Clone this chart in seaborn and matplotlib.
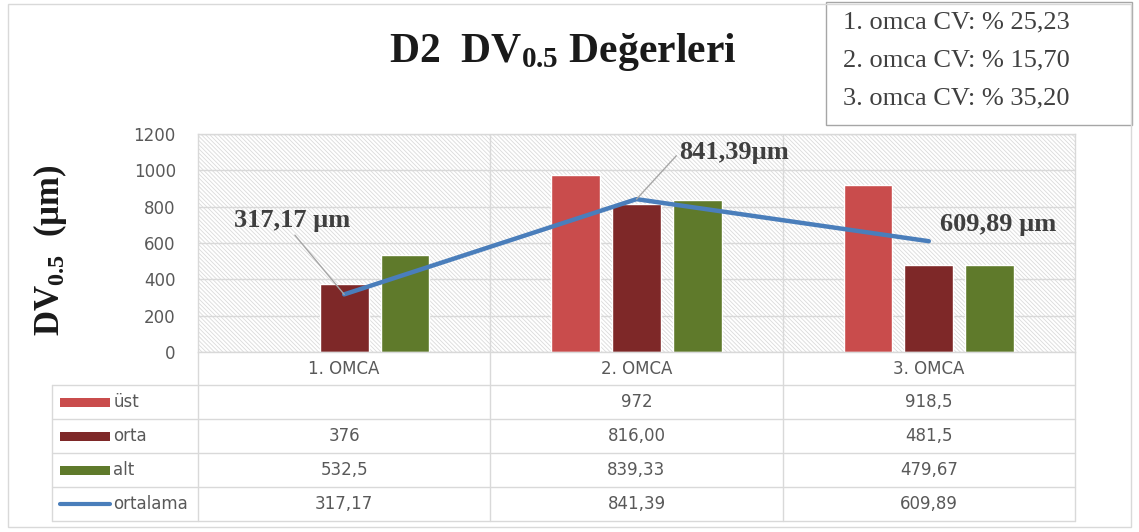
import matplotlib
matplotlib.use("Agg")
import matplotlib.pyplot as plt
from matplotlib.patches import Rectangle
from matplotlib.lines import Line2D
from matplotlib.transforms import Affine2D, blended_transform_factory
import numpy as np
import pandas as pd
import seaborn as sns

# veriler
categories = ["1. OMCA", "2. OMCA", "3. OMCA"]
ust = [np.nan, 972, 918.5]
orta = [376, 816.00, 481.5]
alt = [532.5, 839.33, 479.67]
ortalama = [317.17, 841.39, 609.89]
series_names = ["üst", "orta", "alt"]
table_text = {
    "üst": ["", "972", "918,5"],
    "orta": ["376", "816,00", "481,5"],
    "alt": ["532,5", "839,33", "479,67"],
    "ortalama": ["317,17", "841,39", "609,89"],
}
point_labels = ["317,17 µm", "841,39µm", "609,89 µm"]
cv_lines = ["1. omca CV: % 25,23", "2. omca CV: % 15,70", "3. omca CV: % 35,20"]
yticks = [0, 200, 400, 600, 800, 1000, 1200]

colors = {"üst": "#C94C4C", "orta": "#7E2828", "alt": "#5F7A2B"}
line_color = "#4A7EBB"
grid_c = "#D9D9D9"
txt_c = "#595959"

sns.set_theme(style="white")
plt.rcParams['font.family'] = ['DejaVu Sans']
plt.rcParams['mathtext.fontset'] = 'custom'
plt.rcParams['mathtext.rm'] = 'Liberation Serif:bold'
plt.rcParams['mathtext.bf'] = 'Liberation Serif:bold'
plt.rcParams['mathtext.default'] = 'bf'
plt.rcParams['hatch.linewidth'] = 0.6

W, H = 1139, 532
fig = plt.figure(figsize=(W / 100, H / 100), dpi=100)
fig.patch.set_facecolor("white")
ax = fig.add_axes([198 / W, 1 - 352 / H, 877 / W, 218 / H])

# taralı arka plan
ax.patch.set_facecolor("white")
ax.patch.set_edgecolor("#DADADA")
ax.patch.set_hatch("\\\\\\\\\\\\\\\\")

df = pd.DataFrame({
    "omca": categories * 3,
    "seri": np.repeat(series_names, len(categories)),
    "deger": ust + orta + alt,
})
sns.barplot(data=df, x="omca", y="deger", hue="seri", hue_order=series_names,
            palette=colors, width=0.625, gap=0.2, saturation=1, errorbar=None,
            legend=False, ax=ax, zorder=2)
xpos = np.arange(len(categories))
sns.lineplot(x=xpos, y=ortalama, ax=ax, color=line_color, lw=3.2, zorder=3)

ax.set_xlim(-0.5, 2.5)
ax.set_ylim(0, 1200)
ax.set_yticks(yticks)
ax.set_yticklabels([str(v) for v in yticks])
ax.set_xticks(xpos)
ax.set_xticklabels(categories)
ax.tick_params(axis="y", length=0, pad=16, labelsize=12, labelcolor=txt_c)
ax.tick_params(axis="x", length=0, pad=6, labelsize=12, labelcolor=txt_c)
ax.set_xlabel("")
ax.set_ylabel("")
ax.yaxis.grid(True, color=grid_c, lw=1)
ax.set_axisbelow(True)
for s in ax.spines.values():
    s.set_color(grid_c)
    s.set_linewidth(1)
for xv in [0.5, 1.5]:
    ax.axvline(xv, color=grid_c, lw=1, zorder=1)

# nokta etiketleri
offsets = [(-52, 74), (98, 47), (69, 17)]
relpos = [(0.5, 0.0), (0.0, 0.5), None]
for i, lab in enumerate(point_labels):
    kw = {}
    if relpos[i] is not None:
        kw["arrowprops"] = dict(arrowstyle="-", color="#A6A6A6", lw=1, relpos=relpos[i],
                                shrinkA=0, shrinkB=0)
    ax.annotate(lab, xy=(xpos[i], ortalama[i]), xytext=offsets[i], textcoords="offset pixels",
                ha="center", va="center", fontsize=19, fontweight="bold",
                family="Liberation Serif", color="#3F3F3F", zorder=5, **kw)

# veri tablosu
pix = Affine2D().scale(1, -1).translate(0, H)
tr = blended_transform_factory(ax.transData, pix)
rows_y = [385, 419, 453, 487, 521]
for yv in rows_y:
    fig.add_artist(Line2D([-1.0, 2.5], [yv, yv], transform=tr, color=grid_c, lw=1))
fig.add_artist(Line2D([-1.0, -1.0], [385, 521], transform=tr, color=grid_c, lw=1))
for xv in [-0.5, 0.5, 1.5, 2.5]:
    fig.add_artist(Line2D([xv, xv], [352, 521], transform=tr, color=grid_c, lw=1))

row_names = series_names + ["ortalama"]
for r, name in enumerate(row_names):
    yc = (rows_y[r] + rows_y[r + 1]) / 2
    if name in colors:
        fig.add_artist(Rectangle((-0.972, yc - 4.5), 0.171, 9, transform=tr,
                                 facecolor=colors[name], edgecolor="none"))
    else:
        fig.add_artist(Line2D([-0.972, -0.801], [yc, yc], transform=tr,
                              color=line_color, lw=3))
    fig.text(-0.79, yc, name, transform=tr, ha="left", va="center", fontsize=12, color=txt_c)
    for j, t in enumerate(table_text[name]):
        fig.text(xpos[j], yc, t, transform=tr, ha="center", va="center", fontsize=12, color=txt_c)

# başlık ve eksen adı
fig.text(563 / W, 1 - 52 / H, "D2  DV$_{0.5}$ Değerleri", ha="center", va="center",
         fontsize=30, fontweight="bold", family="Liberation Serif", color="#1A1A1A")
fig.text(50 / W, 1 - 250 / H, "DV$_{0.5}$  (µm)", ha="center", va="center", rotation=90,
         fontsize=25, fontweight="bold", family="Liberation Serif", color="#1A1A1A")

# CV kutusu
fig.add_artist(Rectangle((826 / W, 1 - 125 / H), 306 / W, 123 / H, transform=fig.transFigure,
                         facecolor="white", edgecolor="#A6A6A6", lw=1))
for k, line in enumerate(cv_lines):
    fig.text(843 / W, 1 - (22 + 38 * k) / H, line, ha="left", va="center", fontsize=19,
             family="Liberation Serif", color="#404040")

# grafik çerçevesi
fig.add_artist(Rectangle((8 / W, 1 - 527 / H), 1123 / W, 523 / H, transform=fig.transFigure,
                         facecolor="none", edgecolor=grid_c, lw=1))

fig.savefig("out.png", dpi=100)
